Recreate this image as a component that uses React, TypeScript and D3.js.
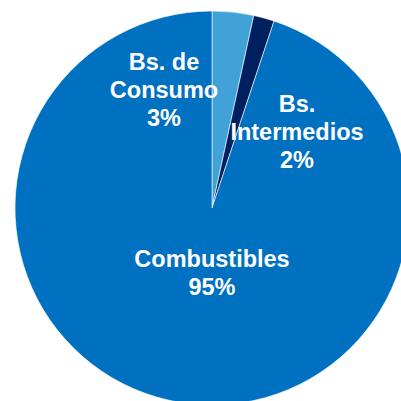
import { useEffect, useRef } from 'react';
import * as d3 from 'd3';

const categories = ['Bs. de Consumo', 'Bs. Intermedios', 'Combustibles'];
const shares = [3.4, 1.7, 94.9];
const pctLabels = ['3%', '2%', '95%'];
const colors = ['#41A2D8', '#002060', '#0070C0'];

// label lines as shown in the chart
const labelLines = [['Bs. de', 'Consumo'], ['Bs.', 'Intermedios'], ['Combustibles']];

const App: React.FC = () => {
  const ref = useRef<SVGSVGElement>(null);

  useEffect(() => {
    const width = 401;
    const height = 401;
    const cx = 212;
    const cy = 208;
    const radius = 197;

    const svg = d3.select(ref.current);
    svg.selectAll('*').remove();

    const g = svg.append('g').attr('transform', 'translate(' + cx + ',' + cy + ')');

    const data = categories.map((c, i) => ({ name: c, value: shares[i], pct: pctLabels[i], color: colors[i], lines: labelLines[i] }));

    const pie = d3.pie<typeof data[0]>().sort(null).value((d) => d.value);
    const arc = d3.arc<d3.PieArcDatum<typeof data[0]>>().innerRadius(0).outerRadius(radius);

    g.selectAll('path')
      .data(pie(data))
      .enter()
      .append('path')
      .attr('d', arc)
      .attr('fill', (d) => d.data.color)
      .attr('stroke', '#ffffff')
      .attr('stroke-width', 0.6);

    // hand placed label anchors (first baseline), relative to centre
    const labelPos = [
      [-48, -138],
      [85, -96],
      [0, 59],
    ];
    const lineH = 28;

    data.forEach((d, i) => {
      const t = g.append('text')
        .attr('text-anchor', 'middle')
        .attr('fill', '#ffffff')
        .attr('font-family', 'Liberation Sans, Arial, sans-serif')
        .attr('font-weight', 'bold')
        .attr('font-size', 23.5);
      [...d.lines, d.pct].forEach((line, j) => {
        t.append('tspan')
          .attr('x', labelPos[i][0])
          .attr('y', labelPos[i][1] + j * lineH)
          .text(line);
      });
    });

    svg.attr('width', width).attr('height', height);
  }, []);

  return (
    <svg ref={ref} style={{ position: 'absolute', left: 0, top: 0 }}></svg>
  );
};

export default App;
